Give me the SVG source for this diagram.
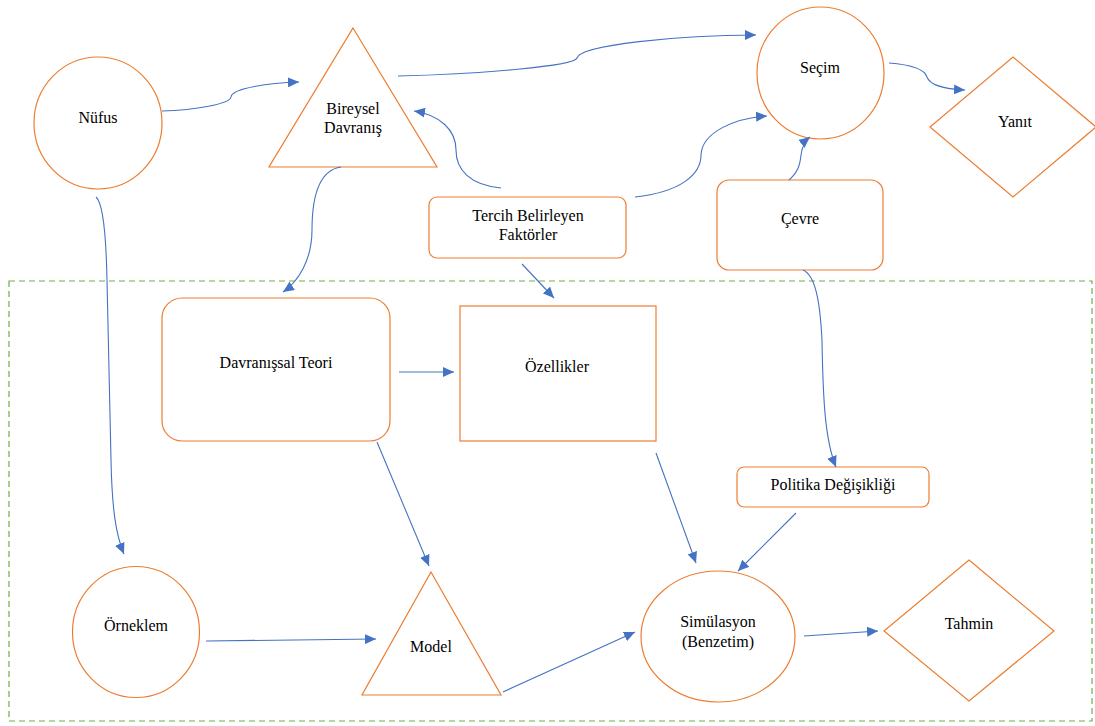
<svg xmlns="http://www.w3.org/2000/svg" width="1095" height="726" viewBox="0 0 1095 726">
<style>
.n{fill:#fff;stroke:#ED7D31;stroke-width:1.2}
.c{fill:none;stroke:#4472C4;stroke-width:1.1;marker-end:url(#ah)}
text{font-family:'Liberation Serif','Times New Roman',serif;font-size:16px;fill:#000;text-anchor:middle;dominant-baseline:central}
.g{fill:none;stroke:#70AD47;stroke-width:1.2;stroke-dasharray:6,4}
</style>
<defs>
<marker id="ah" markerUnits="userSpaceOnUse" markerWidth="12" markerHeight="10" refX="11" refY="5" orient="auto">
<path d="M0,0 L11,5 L0,10 Z" fill="#4472C4"/>
</marker>
</defs>
<rect width="1095" height="726" fill="#fff"/>
<rect id="frame" class="g" x="9" y="281" width="1083" height="440"/>
<g id="nufus"><ellipse class="n" cx="98" cy="123" rx="64" ry="66"/><text x="98" y="117">Nüfus</text></g>
<g id="bireysel"><polygon class="n" points="353,28 437,167 269,167"/><text x="353" y="108">Bireysel</text><text x="353" y="127">Davranış</text></g>
<g id="secim"><ellipse class="n" cx="820.5" cy="73" rx="63.5" ry="66"/><text x="820" y="67">Seçim</text></g>
<g id="yanit"><polygon class="n" points="1013,57 1096,127 1013,197 930,127"/><text x="1015" y="121">Yanıt</text></g>
<g id="tercih"><rect class="n" x="429" y="197" width="197" height="61" rx="8"/><text x="528" y="215">Tercih Belirleyen</text><text x="528" y="234">Faktörler</text></g>
<g id="cevre"><rect class="n" x="717" y="180" width="166" height="90" rx="12"/><text x="800" y="218">Çevre</text></g>
<g id="teori"><rect class="n" x="162" y="298" width="228" height="143" rx="20"/><text x="276" y="362">Davranışsal Teori</text></g>
<g id="ozellikler"><rect class="n" x="460" y="306" width="196" height="135"/><text x="557" y="366">Özellikler</text></g>
<g id="politika"><rect class="n" x="737" y="467" width="192" height="40" rx="7"/><text x="833" y="484">Politika Değişikliği</text></g>
<g id="orneklem"><ellipse class="n" cx="136" cy="632" rx="63.5" ry="65.5"/><text x="136" y="625">Örneklem</text></g>
<g id="model"><polygon class="n" points="431,572 501,695 362,695"/><text x="431" y="646">Model</text></g>
<g id="simulasyon"><ellipse class="n" cx="718" cy="636.5" rx="77" ry="65.5"/><text x="718" y="621">Simülasyon</text><text x="718" y="641">(Benzetim)</text></g>
<g id="tahmin"><polygon class="n" points="969,560 1054,631 969,701 884,631"/><text x="969" y="623">Tahmin</text></g>
<g id="connectors">
<path class="c" d="M162,111 C195,110 230,104 231,97 C232,88 270,83 299,82"/>
<path class="c" d="M398,76 C480,74 575,66 577,58 C580,45 680,35 756,35"/>
<path class="c" d="M501,188 C470,185 456,170 456,150 C456,130 440,115 414,111"/>
<path class="c" d="M635,197 C680,192 701,175 701,155 C702,132 735,118 767,116"/>
<path class="c" d="M789,180 C798,172 800,165 801,155 C802,147 805,141 810,137"/>
<path class="c" d="M889,63 C915,65 925,70 927,77 C930,86 945,89 965,90"/>
<path class="c" d="M341,167 C320,170 312,195 312,230 C312,260 298,282 283,292"/>
<path class="c" d="M522,264 L554,298"/>
<path class="c" d="M96,197 C103,203 106,230 107,280 L111,460 C112,510 116,535 124,554"/>
<path class="c" d="M803,270 C815,275 820,300 822,340 C823,400 825,440 836,467"/>
<path class="c" d="M399,372 L454,372"/>
<path class="c" d="M377,442 L429,566"/>
<path class="c" d="M206,641 L376,639"/>
<path class="c" d="M503,692 L635,632"/>
<path class="c" d="M656,453 L696,563"/>
<path class="c" d="M796,513 L738,571"/>
<path class="c" d="M804,636 L878,631"/>
</g>
</svg>
